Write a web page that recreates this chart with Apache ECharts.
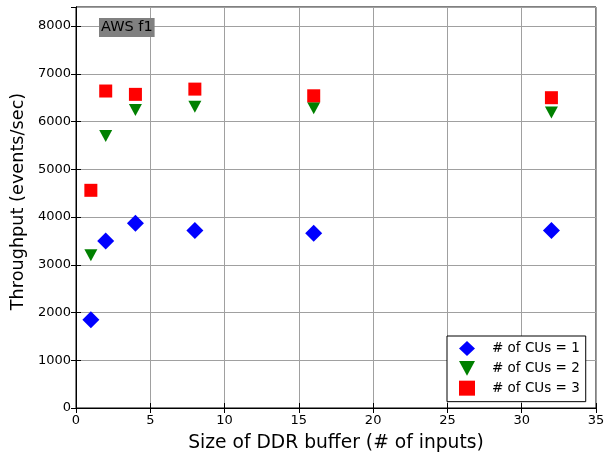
<!DOCTYPE html>
<html><head><meta charset="utf-8">
<script src="https://cdn.jsdelivr.net/npm/echarts@6/dist/echarts.min.js"></script>
<style>html,body{margin:0;padding:0;background:#fff}#c{width:616px;height:454px}</style>
</head><body><div id="c"></div>
<script>
const bufferSizes = [1, 2, 4, 8, 16, 32];
const cu1 = [1850, 3500, 3870, 3720, 3660, 3720];
const cu2 = [3200, 5700, 6240, 6310, 6280, 6190];
const cu3 = [4560, 6640, 6570, 6680, 6540, 6500];
const seriesNames = ['# of CUs = 1', '# of CUs = 2', '# of CUs = 3'];
const FONT = 'DejaVu Sans';
const pair = (ys) => bufferSizes.map((x, i) => [x, ys[i]]);
const downTri = 'path://M0,0L12,0L6,11Z';

const chart = echarts.init(document.getElementById('c'), null, {renderer: 'canvas'});
const axisCommon = {
  axisLine: {show: true, lineStyle: {color: '#000', width: 1}},
  axisTick: {show: true, inside: true, length: 5, lineStyle: {color: '#000'}},
};
chart.setOption({
  animation: false,
  backgroundColor: '#fff',
  textStyle: {fontFamily: FONT},
  title: {
    text: 'AWS f1', left: 99, top: 18,
    backgroundColor: '#808080', padding: [2, 2, 2, 2],
    textStyle: {fontFamily: FONT, fontSize: 14.5, fontWeight: 'normal', color: '#000'}
  },
  grid: {left: 76, right: 20, top: 7, bottom: 46, show: true, borderColor: '#000', borderWidth: 1,
         containLabel: false, outerBoundsMode: 'none'},
  xAxis: [{
    type: 'value', min: 0, max: 35, interval: 5, position: 'bottom',
    ...axisCommon,
    splitLine: {show: true, lineStyle: {color: '#a0a0a0', width: 1}},
    axisLabel: {color: '#000', fontSize: 13, fontFamily: FONT, margin: 6},
    name: 'Size of DDR buffer (# of inputs)', nameLocation: 'middle', nameGap: 26,
    nameTextStyle: {fontSize: 18.7, fontFamily: FONT, color: '#000'}
  }, {
    type: 'value', min: 0, max: 35, interval: 5, position: 'top',
    ...axisCommon, splitLine: {show: false}, axisLabel: {show: false}
  }],
  yAxis: [{
    type: 'value', min: 0, max: 8400, interval: 1000, position: 'left',
    ...axisCommon,
    splitLine: {show: true, lineStyle: {color: '#a0a0a0', width: 1}},
    axisLabel: {color: '#000', fontSize: 13, fontFamily: FONT, margin: 5, showMaxLabel: false,
                formatter: (v) => String(v)},
    name: 'Throughput (events/sec)', nameLocation: 'middle', nameGap: 35,
    nameTextStyle: {fontSize: 17.7, fontFamily: FONT, color: '#000', padding: [0, 0, 0, 12]}
  }, {
    type: 'value', min: 0, max: 8400, interval: 1000, position: 'right',
    ...axisCommon, splitLine: {show: false}, axisLabel: {show: false}
  }],
  legend: {
    orient: 'vertical', left: 447, top: 336,
    backgroundColor: '#fff', borderColor: '#000', borderWidth: 1, borderRadius: 0,
    padding: [5, 6, 6, 12], itemGap: 5, itemWidth: 16, itemHeight: 15,
    textStyle: {fontFamily: FONT, fontSize: 13.5, color: '#000', padding: [0, 0, 0, 12]},
    data: seriesNames
  },
  series: [
    {name: seriesNames[0], type: 'scatter', data: pair(cu1), symbol: 'diamond', symbolSize: 17,
     itemStyle: {color: '#0000ff', opacity: 1}, z: 3},
    {name: seriesNames[1], type: 'scatter', data: pair(cu2), symbol: downTri, symbolSize: [13, 12],
     itemStyle: {color: '#008000', opacity: 1}, z: 4},
    {name: seriesNames[2], type: 'scatter', data: pair(cu3), symbol: 'rect', symbolSize: 13,
     itemStyle: {color: '#ff0000', opacity: 1}, z: 5}
  ]
});
</script></body></html>
